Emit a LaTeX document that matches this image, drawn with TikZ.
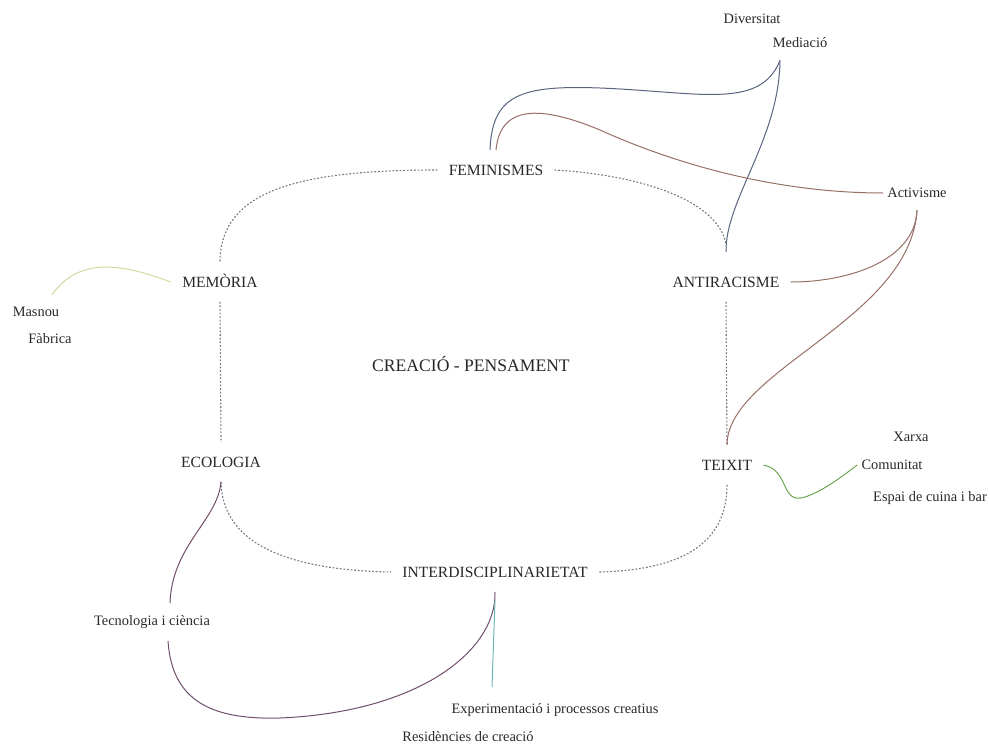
\documentclass[tikz,border=0pt]{standalone}
\usepackage{fontspec}
\setmainfont{Liberation Serif}
\definecolor{ringgray}{RGB}{120,120,128}
\definecolor{slateline}{RGB}{90,100,130}
\definecolor{brownline}{RGB}{150,112,102}
\definecolor{paleline}{RGB}{205,218,160}
\definecolor{greenline}{RGB}{110,165,80}
\definecolor{plumline}{RGB}{112,78,108}
\definecolor{tealline}{RGB}{110,182,182}
\definecolor{inkgray}{RGB}{40,40,40}
\tikzset{
  ring/.style={draw=ringgray, line width=0.55pt, dash pattern=on 0.9pt off 0.9pt},
  link/.style={line width=0.5pt},
}
\begin{document}
\begin{tikzpicture}[x=0.5pt,y=-0.5pt]
      \useasboundingbox (0,0) rectangle (990,744);

      \begin{scope}[every node/.style={text=inkgray, inner xsep=5.5pt, inner ysep=7pt,
          text height=5.4pt, text depth=0pt, font=\fontsize{7.8}{9}\selectfont}]
        \node (fem)   at (496,170) {FEMINISMES};
        \node (mem)   at (220,282) {MEMÒRIA};
        \node (anti)  at (726,282) {ANTIRACISME};
        \node (eco)   at (221,462) {ECOLOGIA};
        \node (teix)  at (727,465) {TEIXIT};
        \node (inter) at (495,572) {INTERDISCIPLINARIETAT};
        \node (crea)  at (471,366) [font=\fontsize{8.8}{10}\selectfont] {CREACIÓ - PENSAMENT};
      \end{scope}

      \begin{scope}[every node/.style={text=inkgray, inner sep=2pt, font=\fontsize{7.2}{8.5}\selectfont}]
        \node (div)   at (752,19)  {Diversitat};
        \node (med)   at (800,43)  {Mediació};
        \node (act)   at (917,193) {Activisme};
        \node (mas)   at (36,312)  {Masnou};
        \node (fab)   at (50,339)  {Fàbrica};
        \node (xar)   at (911,437) {Xarxa};
        \node (com)   at (892,465) {Comunitat};
        \node (espai) at (930,498) {Espai de cuina i bar};
        \node (tec)   at (152,622) {Tecnologia i ciència};
        \node (exp)   at (555,710) {Experimentació i processos creatius};
        \node (res)   at (468,737) {Residències de creació};
      \end{scope}

      \begin{scope}[ring]
        \draw (fem.west) .. controls (300,170) and (220,190) .. (mem.north);
        \draw (fem.east) .. controls (640,175) and (718,200) .. ([yshift=9pt]anti.north);
        \draw (mem.south) -- (eco.north);
        \draw (anti.south) -- (teix.north);
        \draw (eco.south) .. controls (222,540) and (280,570) .. (inter.west);
        \draw (teix.south) .. controls (727,545) and (680,570) .. (inter.east);
      \end{scope}

      \begin{scope}[link]
        \draw[slateline] ([xshift=-3pt]fem.north) .. controls (492,95) and (520,85) .. (600,88)
          .. controls (700,92) and (760,110) .. ([xshift=-10pt,yshift=-4pt]med.south);
        \draw[slateline] ([yshift=5pt]anti.north) .. controls (725,200) and (779,140) .. ([xshift=-10pt,yshift=-4pt]med.south);
        \draw[brownline] (fem.north) .. controls (500,105) and (540,105) .. (600,130)
          .. controls (700,175) and (800,193) .. (act.west);
        \draw[brownline] (anti.east) .. controls (850,282) and (915,260) .. ([yshift=-4pt]act.south);
        \draw[brownline] (teix.north) .. controls (727,370) and (910,320) .. ([yshift=-4pt]act.south);
        \draw[paleline] (mem.west) .. controls (125,265) and (80,255) .. ([xshift=8pt,yshift=4pt]mas.north);
        \draw[greenline] (teix.east) .. controls (790,470) and (780,505) .. (805,497)
          .. controls (820,492) and (835,482) .. (com.west);
        \draw[plumline] (eco.south) .. controls (218,520) and (172,545) .. ([xshift=9pt,yshift=4pt]tec.north);
        \draw[plumline] ([xshift=8pt,yshift=-4pt]tec.south) .. controls (172,700) and (210,720) .. (280,718)
          .. controls (420,712) and (497,650) .. (inter.south);
        \draw[tealline] ([yshift=-4pt]inter.south) -- ([xshift=-31.5pt,yshift=6pt]exp.north);
      \end{scope}

    \end{tikzpicture}
\end{document}
